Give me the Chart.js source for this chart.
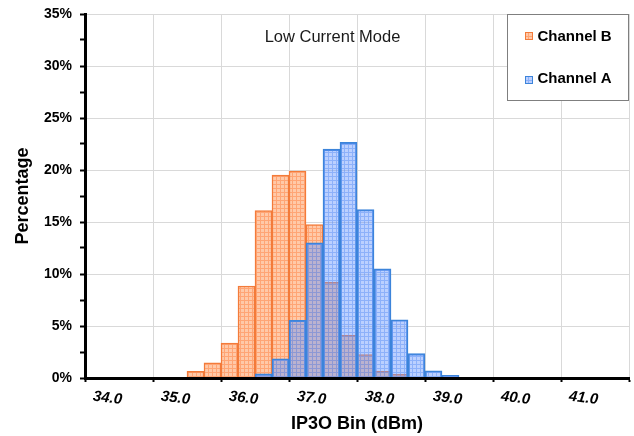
<!DOCTYPE html>
<html>
<head>
<meta charset="utf-8">
<script src="https://cdn.jsdelivr.net/npm/chart.js@4.4.1/dist/chart.umd.min.js"></script>
<style>html,body{margin:0;padding:0;background:#fff}canvas{display:block}</style>
</head>
<body>
<canvas id="c" width="634" height="436"></canvas>
<script>
// ---- data ----
const binCenters = [35.625, 35.875, 36.125, 36.375, 36.625, 36.875, 37.125, 37.375, 37.625, 37.875, 38.125, 38.375, 38.625, 38.875, 39.125, 39.375];
const channelB = [0.65, 1.45, 3.35, 8.85, 16.1, 19.5, 19.9, 14.75, 9.2, 4.1, 2.25, 0.65, 0.35, null, null, null];
const channelA = [null, null, null, null, 0.4, 1.85, 5.55, 13.0, 22.0, 22.65, 16.2, 10.5, 5.6, 2.35, 0.7, 0.25];
const seriesNames = ['Channel B', 'Channel A'];
const xTickLabels = ['34.0', '35.0', '36.0', '37.0', '38.0', '39.0', '40.0', '41.0', ''];
const yTickLabels = ['0%', '', '5%', '', '10%', '', '15%', '', '20%', '', '25%', '', '30%', '', '35%'];
const chartTitle = 'Low Current Mode';
const xTitle = 'IP3O Bin (dBm)';
const yTitle = 'Percentage';

const FONT = "'Liberation Sans', Arial, sans-serif";
const canvas = document.getElementById('c');
const ctx = canvas.getContext('2d');

function makePattern(bg, line) {
  const p = document.createElement('canvas');
  p.width = 4; p.height = 4;
  const g = p.getContext('2d');
  g.fillStyle = bg; g.fillRect(0, 0, 4, 4);
  g.fillStyle = line; g.fillRect(0, 0, 4, 1); g.fillRect(0, 1, 1, 3);
  return ctx.createPattern(p, 'repeat');
}
const orangeFill = makePattern('#FFC9A8', '#FFA575');
const blueFill = makePattern('rgba(105,150,255,0.45)', 'rgba(95,145,245,0.5)');
const orangeLine = '#F37B3A';
const blueLine = '#3C84DA';

const overlay = {
  id: 'overlay',
  afterDraw(chart) {
    const c = chart.ctx;
    const a = chart.chartArea;
    c.save();
    // chart title
    c.font = '16.5px ' + FONT;
    c.fillStyle = '#1a1a1a';
    c.textAlign = 'center';
    c.textBaseline = 'middle';
    c.fillText(chartTitle, a.left + (a.right - a.left) * 0.455, a.top + 23);
    // legend box
    const bx = a.right - 122, by = a.top, bw = 121, bh = 87;
    c.fillStyle = '#fff';
    c.fillRect(bx, by, bw, bh);
    c.strokeStyle = '#7f7f7f';
    c.lineWidth = 1;
    c.strokeRect(bx + 0.5, by + 0.5, bw, bh - 1);
    const entries = [[orangeFill, orangeLine, 18, 22.7], [blueFill, blueLine, 62, 65.3]];
    c.font = 'bold 15px ' + FONT;
    c.textAlign = 'left';
    entries.forEach((e, i) => {
      c.fillStyle = e[0];
      c.fillRect(bx + 18, by + e[2], 8, 8);
      c.strokeStyle = e[1];
      c.strokeRect(bx + 18.5, by + e[2] + 0.5, 7, 7);
      c.fillStyle = '#000';
      c.fillText(seriesNames[i], bx + 30.5, by + e[3]);
    });
    c.restore();
  }
};

new Chart(ctx, {
  type: 'bar',
  data: {
    datasets: [
      {
        label: seriesNames[0],
        data: binCenters.map((x, i) => ({ x: x, y: channelB[i] })),
        backgroundColor: orangeFill,
        borderColor: orangeLine,
        borderWidth: 1.5,
        order: 1,
        grouped: false,
        barPercentage: 1,
        categoryPercentage: 1
      },
      {
        label: seriesNames[1],
        data: binCenters.map((x, i) => ({ x: x, y: channelA[i] })),
        backgroundColor: blueFill,
        borderColor: blueLine,
        borderWidth: 1.5,
        order: 0,
        grouped: false,
        barPercentage: 1,
        categoryPercentage: 1
      }
    ]
  },
  options: {
    responsive: false,
    animation: false,
    devicePixelRatio: 1,
    layout: { padding: { top: 14, right: 5, left: 0, bottom: 0 } },
    plugins: { legend: { display: false }, tooltip: { enabled: false }, title: { display: false } },
    scales: {
      x: {
        type: 'linear', min: 34, max: 42, offset: false,
        grid: { offset: false, color: '#D9D9D9', lineWidth: 1, tickColor: '#000', tickLength: 4, tickWidth: 2, drawTicks: true },
        border: { display: true, color: '#000', width: 3, z: 1 },
        ticks: {
          stepSize: 1, autoSkip: false, minRotation: -7, maxRotation: -7, labelOffset: 37, padding: 9,
          color: '#000', font: { family: FONT, size: 15, weight: 'bold', style: 'italic' },
          callback: (v, i) => xTickLabels[i]
        },
        title: { display: true, text: xTitle, color: '#000', font: { family: FONT, size: 18, weight: 'bold' }, padding: { top: 0, bottom: 1 } },
        afterFit: s => { s.height = 58; s.paddingLeft = 0; s.paddingRight = 0; }
      },
      y: {
        min: 0, max: 35,
        grid: {
          color: c => (c.tick && c.tick.value % 5 === 0) ? '#D9D9D9' : 'rgba(0,0,0,0)',
          tickColor: '#000', tickLength: 5, tickWidth: 2
        },
        border: { display: true, color: '#000', width: 3, z: 1 },
        ticks: {
          stepSize: 2.5, autoSkip: false, padding: 8, color: '#000',
          font: { family: FONT, size: 14, weight: 'bold' },
          callback: (v, i) => yTickLabels[i]
        },
        title: { display: true, text: yTitle, color: '#000', font: { family: FONT, size: 18, weight: 'bold' }, padding: { top: 12, bottom: 0 } },
        afterFit: s => { s.width = 85; s.paddingTop = 0; s.paddingBottom = 0; }
      }
    }
  },
  plugins: [overlay]
});
</script>
</body>
</html>
